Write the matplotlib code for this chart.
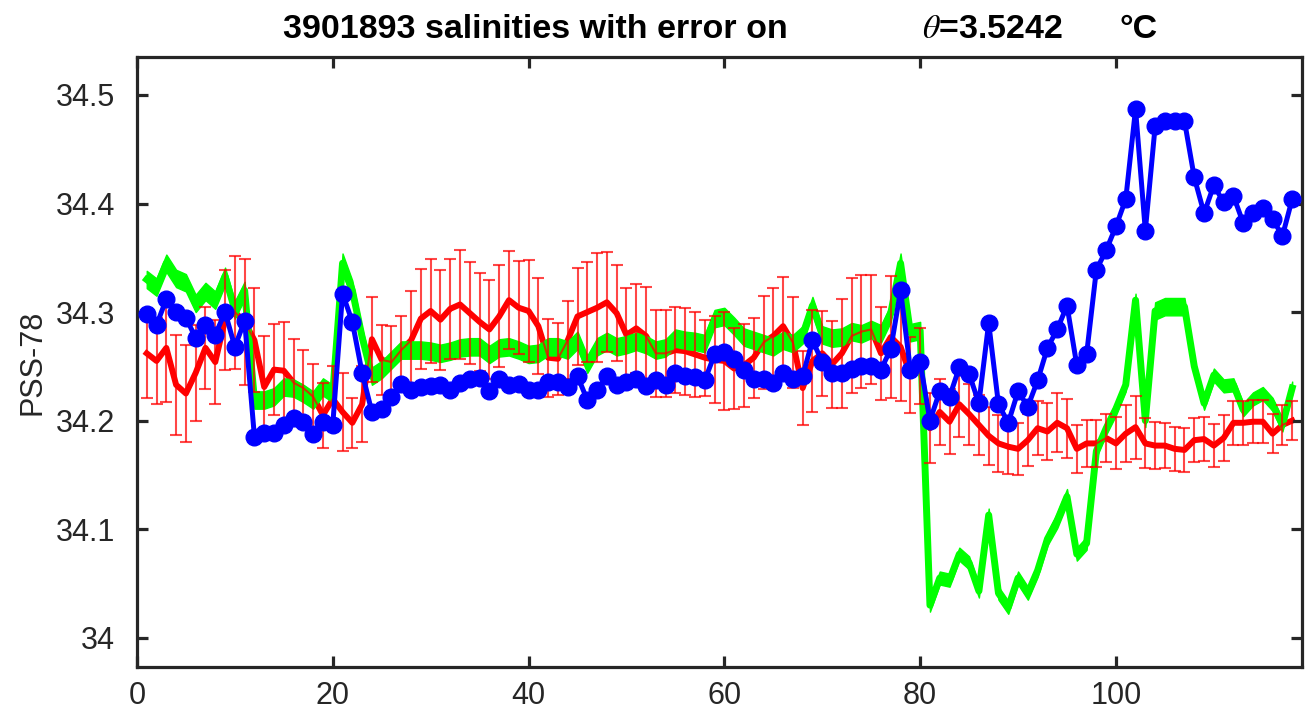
import numpy as np
import matplotlib
matplotlib.use("Agg")
import matplotlib.pyplot as plt

# profile index
profile = np.arange(1, 119)

# float salinity (blue, with markers)
sal_float = [
    34.298, 34.288, 34.312, 34.300, 34.295, 34.276, 34.288, 34.279, 34.300, 34.268,
    34.292, 34.185, 34.189, 34.189, 34.196, 34.202, 34.199, 34.188, 34.199, 34.196,
    34.317, 34.291, 34.244, 34.208, 34.211, 34.222, 34.234, 34.228, 34.231, 34.232,
    34.233, 34.228, 34.235, 34.238, 34.239, 34.227, 34.238, 34.233, 34.234, 34.228,
    34.228, 34.236, 34.236, 34.231, 34.241, 34.219, 34.228, 34.241, 34.233, 34.236,
    34.238, 34.232, 34.237, 34.233, 34.244, 34.241, 34.240, 34.237, 34.261, 34.263,
    34.257, 34.247, 34.238, 34.238, 34.235, 34.244, 34.238, 34.241, 34.274, 34.254,
    34.244, 34.244, 34.248, 34.250, 34.250, 34.247, 34.266, 34.320, 34.247, 34.254,
    34.200, 34.227, 34.222, 34.249, 34.243, 34.216, 34.290, 34.215, 34.198, 34.227,
    34.213, 34.237, 34.267, 34.284, 34.306, 34.251, 34.261, 34.339, 34.357, 34.379,
    34.404, 34.487, 34.375, 34.471, 34.476, 34.476, 34.476, 34.424, 34.391, 34.417,
    34.401, 34.407, 34.382, 34.391, 34.396, 34.386, 34.370, 34.404,
]

# mapped salinity (red) and its error
sal_map = [
    34.262, 34.255, 34.267, 34.233, 34.225, 34.244, 34.267, 34.254, 34.293, 34.300,
    34.291, 34.274, 34.231, 34.247, 34.246, 34.235, 34.230, 34.222, 34.205, 34.220,
    34.208, 34.198, 34.215, 34.275, 34.256, 34.254, 34.265, 34.274, 34.294, 34.301,
    34.293, 34.303, 34.307, 34.299, 34.291, 34.284, 34.296, 34.311, 34.304, 34.301,
    34.287, 34.258, 34.257, 34.274, 34.296, 34.300, 34.304, 34.309, 34.299, 34.279,
    34.285, 34.278, 34.262, 34.262, 34.265, 34.264, 34.261, 34.258, 34.256, 34.255,
    34.248, 34.251, 34.258, 34.272, 34.278, 34.287, 34.272, 34.230, 34.255, 34.262,
    34.252, 34.262, 34.278, 34.282, 34.284, 34.262, 34.277, 34.268, 34.242, 34.250,
    34.193, 34.208, 34.199, 34.215, 34.206, 34.196, 34.186, 34.179, 34.176, 34.174,
    34.182, 34.193, 34.190, 34.198, 34.193, 34.174, 34.179, 34.179, 34.184, 34.179,
    34.188, 34.194, 34.179, 34.177, 34.177, 34.174, 34.173, 34.182, 34.183, 34.177,
    34.184, 34.198, 34.198, 34.199, 34.199, 34.188, 34.196, 34.200,
]
sal_map_err = [
    0.041, 0.040, 0.050, 0.046, 0.045, 0.044, 0.038, 0.039, 0.046, 0.052,
    0.058, 0.048, 0.047, 0.042, 0.045, 0.040, 0.035, 0.030, 0.030, 0.030,
    0.036, 0.023, 0.035, 0.039, 0.032, 0.033, 0.031, 0.045, 0.046, 0.048,
    0.046, 0.046, 0.050, 0.047, 0.045, 0.046, 0.047, 0.045, 0.043, 0.047,
    0.044, 0.036, 0.033, 0.036, 0.045, 0.046, 0.050, 0.046, 0.044, 0.043,
    0.041, 0.045, 0.040, 0.040, 0.040, 0.040, 0.039, 0.035, 0.040, 0.045,
    0.037, 0.038, 0.037, 0.043, 0.044, 0.045, 0.042, 0.034, 0.047, 0.039,
    0.040, 0.050, 0.053, 0.052, 0.050, 0.043, 0.056, 0.050, 0.035, 0.035,
    0.032, 0.030, 0.030, 0.030, 0.028, 0.028, 0.027, 0.026, 0.025, 0.024,
    0.024, 0.025, 0.026, 0.027, 0.027, 0.022, 0.022, 0.022, 0.022, 0.024,
    0.026, 0.029, 0.023, 0.022, 0.021, 0.020, 0.020, 0.020, 0.020, 0.020,
    0.021, 0.020, 0.020, 0.020, 0.020, 0.018, 0.018, 0.018,
]

# climatology band (green): centre and half width
sal_clim = [
    34.330, 34.323, 34.345, 34.331, 34.327, 34.308, 34.319, 34.311, 34.333, 34.302,
    34.320, 34.219, 34.219, 34.222, 34.231, 34.230, 34.225, 34.219, 34.231, 34.225,
    34.345, 34.320, 34.277, 34.241, 34.247, 34.256, 34.265, 34.265, 34.265, 34.264,
    34.262, 34.264, 34.267, 34.268, 34.268, 34.261, 34.267, 34.268, 34.265, 34.261,
    34.262, 34.268, 34.268, 34.265, 34.274, 34.252, 34.268, 34.273, 34.268, 34.270,
    34.273, 34.270, 34.265, 34.267, 34.276, 34.274, 34.273, 34.271, 34.294, 34.296,
    34.287, 34.277, 34.274, 34.271, 34.268, 34.274, 34.271, 34.279, 34.306, 34.279,
    34.276, 34.277, 34.282, 34.280, 34.284, 34.280, 34.299, 34.345, 34.281, 34.283,
    34.030, 34.055, 34.053, 34.077, 34.069, 34.043, 34.113, 34.041, 34.028, 34.055,
    34.041, 34.062, 34.091, 34.108, 34.130, 34.077, 34.087, 34.172, 34.193, 34.211,
    34.233, 34.311, 34.200, 34.301, 34.305, 34.305, 34.305, 34.250, 34.216, 34.242,
    34.232, 34.233, 34.210, 34.220, 34.225, 34.215, 34.196, 34.230,
]
clim_hw = [
    0.008, 0.008, 0.008, 0.008, 0.008, 0.008, 0.008, 0.008, 0.008, 0.008,
    0.008, 0.008, 0.008, 0.008, 0.008, 0.008, 0.008, 0.008, 0.008, 0.008,
    0.009, 0.009, 0.008, 0.008, 0.008, 0.008, 0.008, 0.008, 0.008, 0.008,
    0.008, 0.008, 0.008, 0.008, 0.008, 0.008, 0.008, 0.008, 0.008, 0.008,
    0.008, 0.008, 0.008, 0.008, 0.008, 0.008, 0.008, 0.008, 0.008, 0.008,
    0.008, 0.008, 0.008, 0.008, 0.008, 0.008, 0.008, 0.008, 0.008, 0.008,
    0.008, 0.008, 0.008, 0.008, 0.008, 0.008, 0.008, 0.008, 0.008, 0.008,
    0.008, 0.008, 0.008, 0.008, 0.008, 0.008, 0.008, 0.009, 0.008, 0.008,
    0.006, 0.006, 0.006, 0.006, 0.006, 0.006, 0.006, 0.006, 0.006, 0.006,
    0.006, 0.006, 0.006, 0.007, 0.007, 0.006, 0.006, 0.006, 0.006, 0.006,
    0.006, 0.006, 0.006, 0.008, 0.008, 0.008, 0.008, 0.006, 0.006, 0.006,
    0.006, 0.006, 0.006, 0.006, 0.006, 0.006, 0.006, 0.006,
]

title_left = "3901893 salinities with error on"
title_mid = "$\\theta$=3.5242"
title_right = "°C"

plt.rcParams['font.family'] = ['Liberation Sans', 'DejaVu Sans']
dark = '#262626'
green = '#00ff00'

fig = plt.figure(figsize=(13.13, 7.17), dpi=100)
ax = fig.add_axes([0.1043, 0.0697, 0.8873, 0.8508])

sal_map = np.array(sal_map)
sal_clim = np.array(sal_clim)
clim_hw = np.array(clim_hw)

# thick red line first, the green band sits on top of it
ax.plot(profile, sal_map, color='#ff0000', lw=4.3, zorder=1)
ax.fill_between(profile, sal_clim - clim_hw, sal_clim + clim_hw,
                color=green, lw=1.0, edgecolor=green, zorder=2)
ax.plot(profile, sal_clim, color=green, lw=5, zorder=2)
ax.errorbar(profile, sal_map, yerr=sal_map_err, color=(1, 0, 0, 0.72),
            lw=1.5, elinewidth=1.5, capsize=4.3, capthick=1.5, zorder=3)
ax.plot(profile, sal_float, color='#0000ff', lw=3.6, marker='o',
        markersize=12, zorder=4)

ax.set_xlim(0, 119)
ax.set_ylim(33.973, 34.535)
ax.set_xticks([0, 20, 40, 60, 80, 100])
ax.set_yticks([34, 34.1, 34.2, 34.3, 34.4, 34.5])
ax.set_yticklabels(['34', '34.1', '34.2', '34.3', '34.4', '34.5'])

for s in ax.spines.values():
    s.set_linewidth(2.3)
    s.set_color(dark)
ax.tick_params(direction='in', length=8, width=2.3, colors=dark,
               labelsize=22, top=True, right=True)
ax.tick_params(axis='y', pad=16)
ax.tick_params(axis='x', pad=10)

ax.set_ylabel('PSS-78', fontsize=22, color=dark, labelpad=6)

# title in three pieces, spaced like the original
fig.text(0.2155, 0.947, title_left, fontsize=24.5, fontweight='bold',
         ha='left', va='baseline')
fig.text(0.7022, 0.947, title_mid, fontsize=24.5, fontweight='bold',
         ha='left', va='baseline', math_fontfamily='stix')
fig.text(0.853, 0.947, title_right, fontsize=24.5, fontweight='bold',
         ha='left', va='baseline')

fig.savefig('out.png', dpi=100)
